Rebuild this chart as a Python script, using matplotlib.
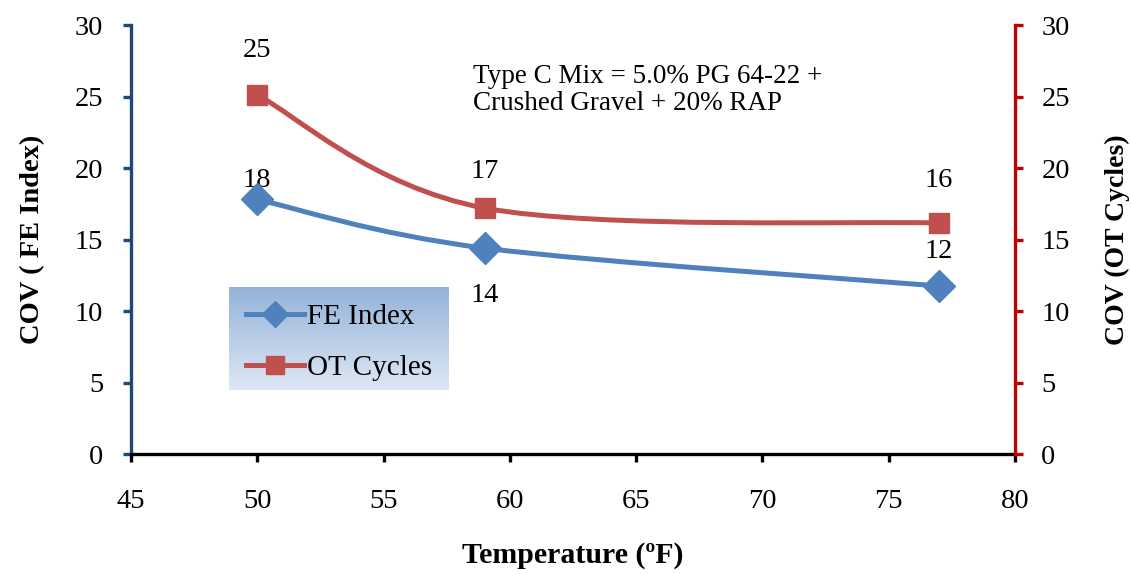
import numpy as np
import matplotlib
matplotlib.use('Agg')
import matplotlib.pyplot as plt
from matplotlib.path import Path
from matplotlib.patches import PathPatch
from matplotlib.lines import Line2D

plt.rcParams['font.family'] = ['Liberation Serif', 'DejaVu Serif']

temps = [50, 59, 77]
fe_cov = [17.8, 14.4, 11.75]
ot_cov = [25.1, 17.2, 16.15]
note = 'Type C Mix = 5.0% PG 64-22 +\nCrushed Gravel + 20% RAP'

fe_color = '#4f81bd'
ot_color = '#c0504d'


def smooth_path(xs, ys):
    # excel-style smoothed line: bezier segments through the points
    pts = np.column_stack([xs, ys]).astype(float)
    ext = np.vstack([pts[0], pts, pts[-1]])
    verts = [pts[0]]
    codes = [Path.MOVETO]
    for i in range(len(pts) - 1):
        p0, p1, p2, p3 = ext[i], ext[i + 1], ext[i + 2], ext[i + 3]
        verts += [p1 + (p2 - p0) / 6, p2 - (p3 - p1) / 6, p2]
        codes += [Path.CURVE4] * 3
    return Path(verts, codes)


fig = plt.figure(figsize=(11.31, 5.74), dpi=100)
ax = fig.add_axes([0.1158, 0.209, 0.7816, 0.7474])
ax2 = ax.twinx()

ax.set_xlim(45, 80)
ax.set_ylim(0, 30)
ax2.set_ylim(0, 30)
ax.set_xticks(range(45, 81, 5))
ax.set_yticks(range(0, 31, 5))
ax2.set_yticks(range(0, 31, 5))

ax.add_patch(PathPatch(smooth_path(temps, fe_cov), fill=False, ec=fe_color, lw=3.6, zorder=3))
ax.plot(temps, fe_cov, ls='none', marker='D', ms=16, color=fe_color, zorder=4)
ax2.add_patch(PathPatch(smooth_path(temps, ot_cov), fill=False, ec=ot_color, lw=3.6, zorder=3))
ax2.plot(temps, ot_cov, ls='none', marker='s', ms=15, color=ot_color, zorder=4)

fe_off = [(0, 14), (0, -34), (0, 25)]
ot_off = [(0, 32), (0, 26), (0, 31)]
for x, v, o in zip(temps, fe_cov, fe_off):
    ax.annotate(f'{v:.0f}', (x, v), xytext=o, textcoords='offset points',
                ha='center', va='center', fontsize=20.5)
for x, v, o in zip(temps, ot_cov, ot_off):
    ax2.annotate(f'{v:.0f}', (x, v), xytext=o, textcoords='offset points',
                 ha='center', va='center', fontsize=20.5)

ax.text(0.387, 0.91, note, transform=ax.transAxes, fontsize=19.5,
        va='top', ha='left', linespacing=1.15)

for a in (ax, ax2):
    a.spines['top'].set_visible(False)
    for s in a.spines.values():
        s.set_linewidth(2.4)
ax.spines['right'].set_visible(False)
ax2.spines['left'].set_visible(False)
ax2.spines['bottom'].set_visible(False)
ax.spines['left'].set_color('#1f497d')
ax.spines['bottom'].set_color('black')
ax2.spines['right'].set_color('#c00000')

ax.tick_params(axis='y', colors='#1f497d', width=2.4, length=6, labelsize=20.5,
               labelcolor='black', pad=14)
ax.tick_params(axis='x', colors='black', width=2.4, length=6, labelsize=20.5, pad=19)
ax2.tick_params(axis='y', colors='#c00000', width=2.4, length=6, labelsize=20.5,
                labelcolor='black', pad=13)

ax.set_xlabel('Temperature (ºF)', fontsize=21.5, fontweight='bold', labelpad=20)
ax.set_ylabel('COV ( FE Index)', fontsize=20.5, fontweight='bold', labelpad=21)
ax2.set_ylabel('COV (OT Cycles)', fontsize=20, fontweight='bold', labelpad=25)

# legend box with vertical gradient
gax = fig.add_axes([0.2025, 0.3206, 0.1945, 0.1794])
grad = np.linspace(0, 1, 256).reshape(-1, 1)
top = np.array([0.58, 0.70, 0.85])
bot = np.array([0.87, 0.91, 0.96])
img = top + (bot - top) * grad[:, :, None]
gax.imshow(img, aspect='auto', extent=[0, 1, 0, 1], origin='upper')
gax.set_axis_off()
handles = [Line2D([], [], color=fe_color, lw=3.6, marker='D', ms=13),
           Line2D([], [], color=ot_color, lw=3.6, marker='s', ms=13)]
gax.legend(handles, ['FE Index', 'OT Cycles'], loc='center', bbox_to_anchor=(0.5, 0.46),
           frameon=False, fontsize=21, handlelength=2.0, handletextpad=0.1,
           labelspacing=0.85, borderpad=0.2)

fig.savefig('out.png', dpi=100)
